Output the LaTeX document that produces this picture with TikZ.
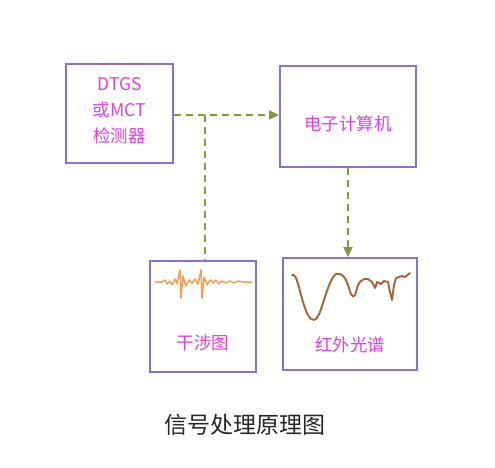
\documentclass[tikz,border=0pt]{standalone}
\usepackage{fontspec}
\newfontfamily\cjk{Noto Sans CJK SC}
\usetikzlibrary{arrows.meta}
\definecolor{boxc}{HTML}{8A6FD6}
\definecolor{txtc}{HTML}{E040E0}
\definecolor{arrc}{HTML}{8C9440}
\definecolor{wavec}{HTML}{F0A050}
\definecolor{specc}{HTML}{A0663A}
\tikzset{
  blk/.style={draw=boxc, line width=1.8pt, fill=white, inner sep=0pt},
  lbl/.style={text=txtc, font=\cjk\fontsize{17.5}{26}\selectfont, align=center, inner sep=0pt},
  conn/.style={draw=arrc, line width=2pt, dash pattern=on 7pt off 5pt},
  tip/.style={-{Triangle[length=10pt,width=9pt]}}
}
\begin{document}
\begin{tikzpicture}[x=1pt,y=-1pt]
\useasboundingbox (0,0) rectangle (495,467);
\node[blk, minimum width=107pt, minimum height=99pt] (det) at (119.5,113.5) {};
\node[blk, minimum width=136pt, minimum height=101pt] (comp) at (348,116.5) {};
\node[blk, minimum width=106pt, minimum height=111pt] (intf) at (203,316.5) {};
\node[blk, minimum width=134pt, minimum height=112pt] (spec) at (350,314) {};
\node[lbl] (dett) at (119.5,111) {DTGS\\或MCT\\检测器};
\node[lbl] (compt) at (348,124) {电子计算机};
\node[lbl] (intft) at (203,343) {干涉图};
\node[lbl] (spect) at (350,345) {红外光谱};
\node[font=\cjk\fontsize{23}{26}\selectfont, text=black!85, inner sep=0pt] (cap) at (245,425) {信号处理原理图};
% connectors
\coordinate (br) at (205,115);
\draw[conn, tip] (det.east |- br) -- (comp.west |- br);
\draw[conn] (br) -- (br |- intf.north);
\draw[conn, tip] (comp.south) -- (comp.south |- spec.north);
% interferogram
\draw[wavec, line width=1.5pt, line join=round]
  (155,282) -- (162,282) -- (165,280) -- (167,284) -- (170,281) -- (172,285) -- (175,279) -- (177,284)
  -- (180,270) -- (181,298) -- (183,276) -- (186,286) -- (189,280) -- (192,283) -- (195,279) -- (198,284)
  -- (201,270) -- (202,298) -- (204,277) -- (207,285) -- (210,280) -- (213,283) -- (216,280) -- (219,284)
  -- (222,281) -- (226,283) -- (230,281) -- (234,283) -- (238,281) -- (243,282) -- (252,282);
% spectrum
\draw[specc, line width=1.9pt, line join=round, line cap=round]
  (292,275) .. controls (298,272) and (300,300) .. (308,315)
  .. controls (312,322) and (316,322) .. (320,312)
  .. controls (326,295) and (330,278) .. (336,274)
  .. controls (342,272) and (346,278) .. (349,288)
  .. controls (351,296) and (354,300) .. (356,292)
  .. controls (358,282) and (362,278) .. (368,279)
  -- (372,282) -- (375,288) -- (377,282) -- (381,284) -- (384,281) -- (388,282)
  -- (390,292) -- (392,300) -- (394,285) -- (396,278) -- (402,276) -- (405,277) -- (410,273);
\end{tikzpicture}
\end{document}
